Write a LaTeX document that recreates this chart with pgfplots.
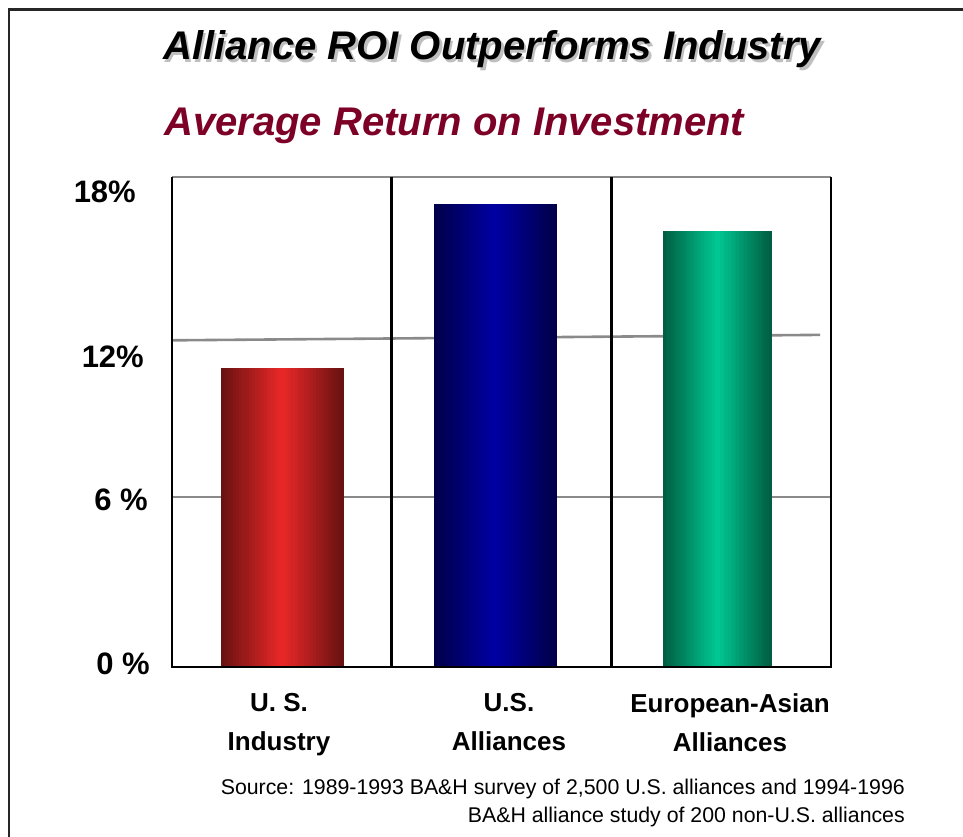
\documentclass[border=0pt]{standalone}
\usepackage{pgfplots}
\pgfplotsset{compat=1.18}
\usepackage{fontspec}
\setmainfont{Liberation Sans}
\definecolor{subred}{HTML}{7D0026}
\definecolor{redD}{HTML}{6A1212}
\definecolor{redL}{HTML}{EE2828}
\definecolor{bluD}{HTML}{00004A}
\definecolor{bluL}{HTML}{0000A6}
\definecolor{grnD}{HTML}{005E42}
\definecolor{grnL}{HTML}{00CC96}
\definecolor{gridg}{HTML}{8A8A8A}
\begin{document}
\begin{tikzpicture}[x=1pt,y=1pt]
\path[use as bounding box] (0,0) rectangle (963,837);
\draw[line width=2.2pt, black!85] (8.7,-3) -- (8.7,827.5) -- (966,827.5);
\node[anchor=base west, inner sep=0pt, text=gray!50, font=\bfseries\itshape\fontsize{40}{48}\selectfont] at (165.5,774.5) {Alliance ROI Outperforms Industry};
\node[anchor=base west, inner sep=0pt, text=black, font=\bfseries\itshape\fontsize{40}{48}\selectfont] at (163,777) {Alliance ROI Outperforms Industry};
\node[anchor=base west, inner sep=0pt, text=subred, font=\bfseries\itshape\fontsize{40}{48}\selectfont] at (164,701) {Average Return on Investment};
\node[anchor=base east, inner sep=0pt, font=\fontsize{21.3}{25}\selectfont] at (905,42) {Source: 1989-1993 BA\&H survey of 2,500 U.S. alliances and 1994-1996};
\node[anchor=base east, inner sep=0pt, font=\fontsize{21.3}{25}\selectfont] at (905,14) {BA\&H alliance study of 200 non-U.S. alliances};
\begin{axis}[
  at={(172pt,170pt)}, anchor=south west,
  scale only axis, width=659pt, height=490pt,
  xmin=-0.5, xmax=2.5, ymin=0, ymax=18,
  clip=false,
  axis line style={draw=none},
  major tick length=0pt,
  ytick={0.11,6.13,11.39,17.45},
  yticklabels={0 \%,6 \%\rule{2pt}{0pt},12\%\rule{6pt}{0pt},18\%\rule{14pt}{0pt}},
  yticklabel style={font=\bfseries\fontsize{31}{36}\selectfont, inner sep=0pt, anchor=east, xshift=-22pt},
  xtick={-0.013,1.034,2.04},
  xticklabels={U. S.\\Industry,U.S.\\Alliances,European-Asian\\Alliances},
  xticklabel style={font=\bfseries\fontsize{26}{39}\selectfont, align=center, inner sep=0pt, anchor=north, yshift=-26pt},
]
% grid lines
\draw[gridg, line width=2.6pt] (axis cs:-0.5,18) -- (axis cs:2.5,18);
\draw[gridg, line width=2.6pt] (axis cs:-0.5,12.0) -- (axis cs:2.45,12.2);
\draw[gridg, line width=2.6pt] (axis cs:-0.5,6.25) -- (axis cs:2.5,6.25);
% bars: each bar drawn as nested layers of the same value, giving a cylinder-like gradient
\pgfplotsforeachungrouped \k in {0,5,...,95}{%
  \pgfmathsetmacro\bw{0.558*(100-\k)/100}%
  \edef\tmp{\noexpand\addplot[ybar, bar shift=0pt, bar width=\bw, draw=none, fill=redL!\k!redD] coordinates {(0.002,11)};}%
  \tmp
}
\pgfplotsforeachungrouped \k in {0,5,...,95}{%
  \pgfmathsetmacro\bw{0.558*(100-\k)/100}%
  \edef\tmp{\noexpand\addplot[ybar, bar shift=0pt, bar width=\bw, draw=none, fill=bluL!\k!bluD] coordinates {(0.972,17)};}%
  \tmp
}
\pgfplotsforeachungrouped \k in {0,5,...,95}{%
  \pgfmathsetmacro\bw{0.495*(100-\k)/100}%
  \edef\tmp{\noexpand\addplot[ybar, bar shift=0pt, bar width=\bw, draw=none, fill=grnL!\k!grnD] coordinates {(1.982,16)};}%
  \tmp
}
% axis and separators
\draw[black, line width=2.8pt] (axis cs:-0.5,18) -- (axis cs:-0.5,0) -- (axis cs:2.5,0) -- (axis cs:2.5,18);
\draw[black, line width=2.8pt] (axis cs:0.5,0) -- (axis cs:0.5,18);
\draw[black, line width=2.8pt] (axis cs:1.5,0) -- (axis cs:1.5,18);
\end{axis}
\end{tikzpicture}
\end{document}
